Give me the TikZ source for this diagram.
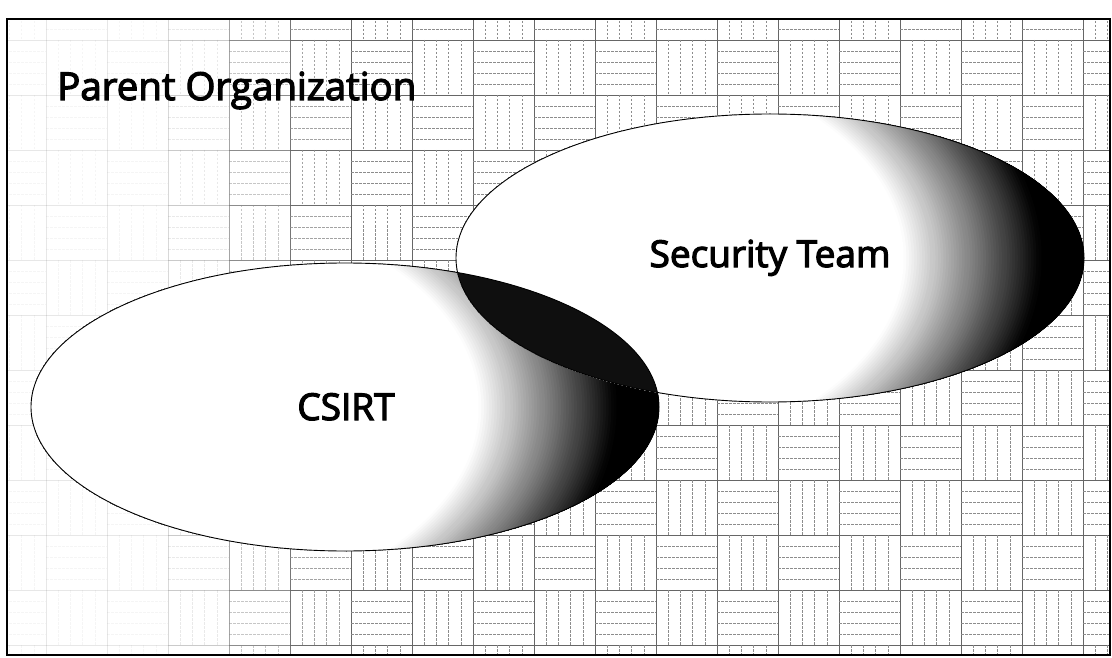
\documentclass[tikz,border=0pt]{standalone}
\usepackage{fontspec}
\setmainfont{Open Sans}
\newcommand\thickertext[1]{\special{pdf:literal direct 2 Tr 1.2 w}#1\special{pdf:literal direct 0 Tr}}
\begin{document}
\begin{tikzpicture}[x=1pt,y=-1pt,
  lbl/.style={font=\fontsize{37}{42}\selectfont, inner sep=0pt, text=black},
  tileedge/.style={draw=black!60, line width=0.8pt},
  tileline/.style={draw=black!45, line width=0.6pt, dash pattern=on 2.5pt off 1.5pt},
  ell/.style={draw=black, line width=0.9pt}]
\useasboundingbox (0,0) rectangle (1112,658);
\fill[white] (0,0) rectangle (1112,658);
\begin{scope}
  \clip (7,19) rectangle (1110,655);
  \foreach \i in {-1,...,17}{
    \foreach \j in {-1,...,11}{
      \pgfmathsetmacro\xo{46+61*\i}
      \pgfmathsetmacro\yo{40+55*\j}
      \pgfmathsetmacro\op{min(1,max(0.08,(\xo-130)/200))}
      \pgfmathtruncatemacro\pty{mod(\i+\j+100,2)}
      \begin{scope}[draw opacity=\op]
        \draw[tileedge] (\xo,\yo) rectangle ++(61,55);
        \ifnum\pty=1
          \foreach \k in {1,...,4} \draw[tileline] (\xo,\yo+11*\k) -- ++(61,0);
        \else
          \foreach \k in {1,...,4} \draw[tileline] (\xo+12.2*\k,\yo) -- ++(0,55);
        \fi
      \end{scope}
    }
  }
\end{scope}
% gradient-filled ellipses (stepped radial gradient from a centre left of the middle)
\foreach \cx/\cy in {345/407, 770/258}{
  \begin{scope}
    \clip (\cx,\cy) ellipse [x radius=314, y radius=144];
    \fill[black] (\cx,\cy) ellipse [x radius=320, y radius=150];
    \foreach \n in {0,...,80}{
      \pgfmathsetmacro\s{1.0-\n*0.005}
      \pgfmathsetmacro\t{min(1,max(0,(\s-0.63)/0.26))}
      \pgfmathtruncatemacro\g{100*\t}
      \fill[black!\g] (\cx-200,\cy) ellipse [x radius={530*\s}, y radius={330*\s}];
    }
  \end{scope}
}
% overlap
\begin{scope}
  \clip (345,407) ellipse [x radius=314, y radius=144];
  \fill[black!94] (770,258) ellipse [x radius=314, y radius=144];
\end{scope}
\draw[ell] (345,407) ellipse [x radius=314, y radius=144];
\draw[ell] (770,258) ellipse [x radius=314, y radius=144];
% labels
\node[lbl, anchor=base west, font=\fontsize{38.5}{42}\selectfont] (po) at (57,100) {\thickertext{Parent Organization}};
\node[lbl, anchor=base] (st) at (770,267) {\thickertext{Security Team}};
\node[lbl, anchor=base] (cs) at (346,420) {\thickertext{CSIRT}};
% frame
\draw[line width=2.4pt] (7,19) rectangle (1110,655);
\end{tikzpicture}
\end{document}
